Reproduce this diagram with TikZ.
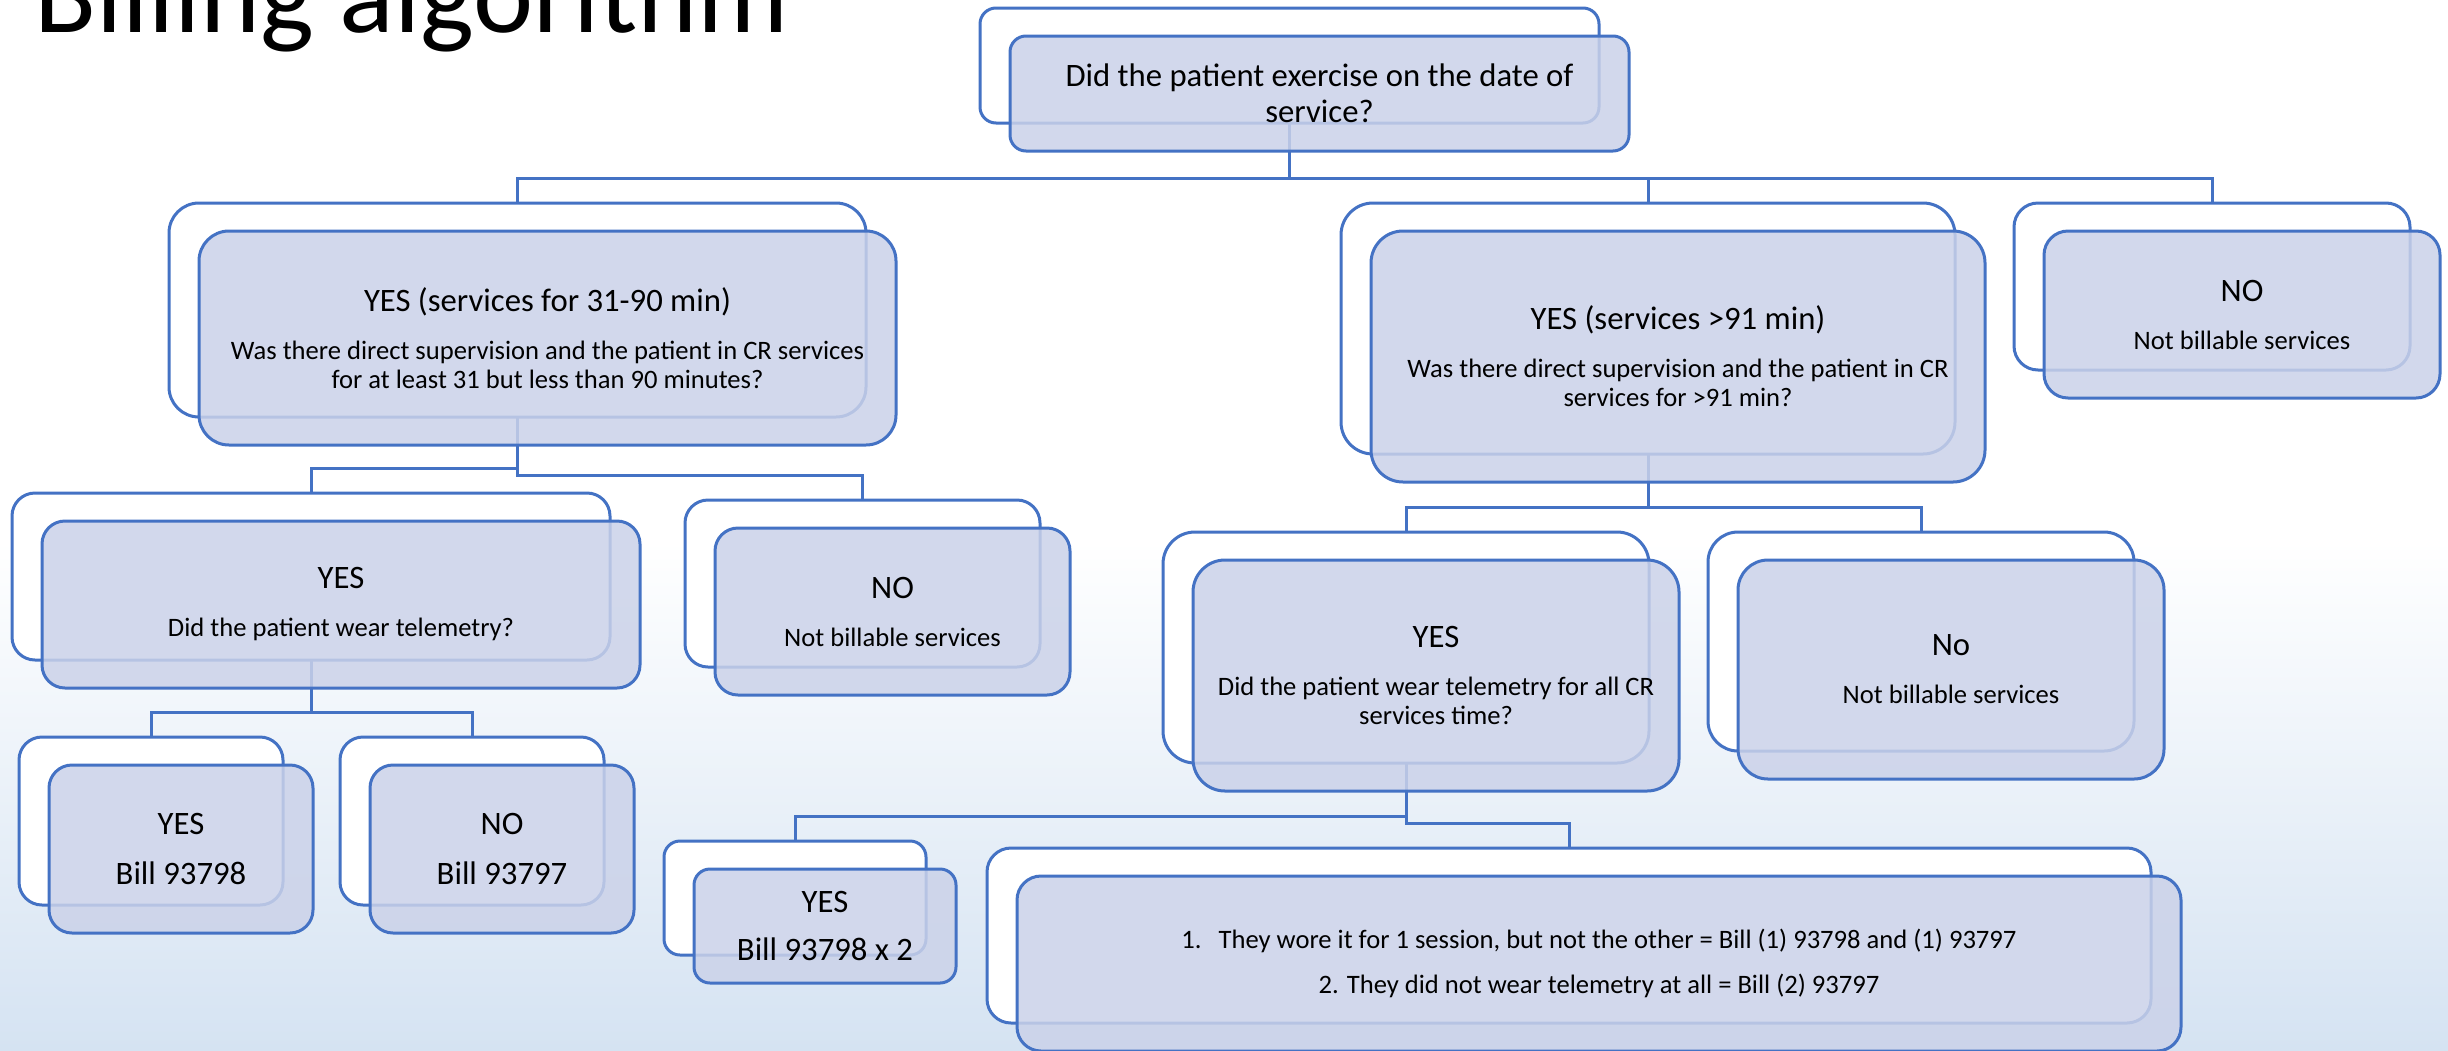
\documentclass[tikz,border=0pt]{standalone}
\usepackage{fontspec}
\setmainfont{Carlito}
\definecolor{edge}{HTML}{4472C4}
\definecolor{fillc}{HTML}{CBD2E9}
\definecolor{bgblue}{HTML}{D5E3F2}
\newcommand\hd[1]{{\fontsize{32.7}{36}\selectfont #1}}
\newcommand\mkback[6]{\node[backbox, minimum width=#4pt, minimum height=#5pt, rounded corners=#6pt] (#1b) at (#2-30,#3-28) {};}
\newcommand\mkfront[8]{\node[frontbox, minimum width=#4pt, minimum height=#5pt, rounded corners=#6pt, #7] (#1) at (#2,#3) {#8};}
\begin{document}
\begin{tikzpicture}[x=1pt,y=-1pt,
  backbox/.style={draw=edge, line width=3pt, fill=white, inner sep=0pt, outer sep=0pt},
  frontbox/.style={draw=edge, line width=3pt, fill=fillc, fill opacity=0.85, text opacity=1, inner sep=0pt, outer sep=0pt, align=center, font=\fontsize{26.6}{29}\selectfont},
  headfont/.style={font=\fontsize{32.7}{36}\selectfont},
  link/.style={draw=edge, line width=3pt}]
\useasboundingbox (0,0) rectangle (2448,1050);
\clip (0,0) rectangle (2448,1050);
\fill[white] (0,0) rectangle (2448,1050);
\shade[top color=white, bottom color=bgblue] (0,540) rectangle (2448,1050);
\node[anchor=base west, inner sep=0pt, font=\fontsize{114}{114}\selectfont] (title) at (34,32) {Billing algorithm};
% back boxes
\mkback{q1}{1319.5}{93.5}{619}{115}{16}
\mkback{yes31}{547.5}{338}{697}{214}{30}
\mkback{yes91}{1678}{356.5}{614}{251}{32}
\mkback{notop}{2242}{314.5}{396}{167}{24}
\mkback{tel1}{341}{604.5}{598}{167}{23}
\mkback{no1}{892.5}{611.5}{355}{167}{23}
\mkback{tel2}{1436}{675.5}{486}{231}{32}
\mkback{no2}{1951}{669.5}{426}{219}{30}
\mkback{bill98}{181}{849}{264}{168}{23}
\mkback{bill97}{502}{849}{264}{168}{23}
\mkback{billx2}{825}{926}{262}{114}{16}
\mkback{mixed}{1599}{963.5}{1164}{175}{24}
% connectors
\foreach \p/\c in {q1/yes31, q1/yes91, q1/notop, yes31/tel1, yes31/no1, yes91/tel2, yes91/no2, tel1/bill98, tel1/bill97, tel2/billx2, tel2/mixed}
  \draw[link] (\p b.south) |- ([yshift=25pt]\c b.north) -- (\c b.north);
% front boxes
\mkfront{q1}{1319.5}{93.5}{619}{115}{16}{headfont}{Did the patient exercise on the date of\\service?}
\mkfront{yes31}{547.5}{338}{697}{214}{30}{}{\hd{YES (services for 31-90 min)}\\[19pt]Was there direct supervision and the patient in CR services\\for at least 31 but less than 90 minutes?}
\mkfront{yes91}{1678}{356.5}{614}{251}{32}{}{\hd{YES (services >91 min)}\\[19pt]Was there direct supervision and the patient in CR\\services for >91 min?}
\mkfront{notop}{2242}{314.5}{396}{167}{24}{}{\hd{NO}\\[19pt]Not billable services}
\mkfront{tel1}{341}{604.5}{598}{167}{23}{}{\hd{YES}\\[19pt]Did the patient wear telemetry?}
\mkfront{no1}{892.5}{611.5}{355}{167}{23}{}{\hd{NO}\\[19pt]Not billable services}
\mkfront{tel2}{1436}{675.5}{486}{231}{32}{}{\hd{YES}\\[19pt]Did the patient wear telemetry for all CR\\services time?}
\mkfront{no2}{1951}{669.5}{426}{219}{30}{}{\hd{No}\\[19pt]Not billable services}
\mkfront{bill98}{181}{849}{264}{168}{23}{headfont}{YES\\[14pt]Bill 93798}
\mkfront{bill97}{502}{849}{264}{168}{23}{headfont}{NO\\[14pt]Bill 93797}
\mkfront{billx2}{825}{926}{262}{114}{16}{headfont}{YES\\[12pt]Bill 93798 x 2}
\mkfront{mixed}{1599}{963.5}{1164}{175}{24}{}{1.\hspace{17pt}They wore it for 1 session, but not the other = Bill (1) 93798 and (1) 93797\\[16pt]2. They did not wear telemetry at all = Bill (2) 93797}
\end{tikzpicture}
\end{document}
